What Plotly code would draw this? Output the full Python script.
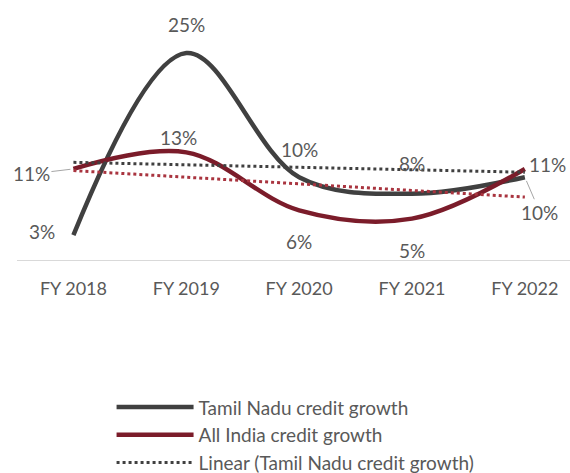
import numpy as np
import plotly.graph_objects as go

# data
years = ["FY 2018", "FY 2019", "FY 2020", "FY 2021", "FY 2022"]
tn_growth = [3, 25, 10, 8, 10]      # Tamil Nadu credit growth (%)
india_growth = [11, 13, 6, 5, 11]   # All India credit growth (%)

TN_COLOR = "#404040"
IN_COLOR = "#7b1c2a"
IN_TREND = "#a9343f"
TEXT = "#595959"
FONT = "Lato"

# linear trend lines (same as Excel's "Linear" trendline)
xs = np.arange(len(years))
tn_fit = np.polyval(np.polyfit(xs, tn_growth, 1), xs)
in_fit = np.polyval(np.polyfit(xs, india_growth, 1), xs)

fig = go.Figure()
fig.add_trace(go.Scatter(x=years, y=tn_growth, name="Tamil Nadu credit growth",
                         mode="lines", line=dict(color=TN_COLOR, width=4.5, shape="spline", smoothing=1)))
fig.add_trace(go.Scatter(x=years, y=india_growth, name="All India credit growth",
                         mode="lines", line=dict(color=IN_COLOR, width=4.5, shape="spline", smoothing=1)))
fig.add_trace(go.Scatter(x=years, y=tn_fit, name="Linear (Tamil Nadu credit growth)",
                         mode="lines", line=dict(color=TN_COLOR, width=3, dash="3px,3px")))
# its legend entry falls below the visible area in the reference
fig.add_trace(go.Scatter(x=years, y=in_fit, name="Linear (All India credit growth)",
                         mode="lines", line=dict(color=IN_TREND, width=3, dash="3px,3px"),
                         showlegend=False))

# data labels: (xshift, yshift) per point, in pixels
tn_offsets = [(-31, 4), (0, 29), (0, 28), (0, 30), None]
in_offsets = [None, (-8, 15), (0, -31), (0, -32), (23, 4)]

for i, yr in enumerate(years):
    for vals, offs in ((tn_growth, tn_offsets), (india_growth, in_offsets)):
        if offs[i] is None:
            continue
        fig.add_annotation(x=yr, y=vals[i], text=f"{vals[i]}%", showarrow=False,
                           xshift=offs[i][0], yshift=offs[i][1],
                           font=dict(family=FONT, size=19, color=TEXT))

# labels with leader lines
fig.add_annotation(x=years[0], y=india_growth[0], text=f"{india_growth[0]}%",
                   showarrow=True, arrowhead=0, arrowwidth=1, arrowcolor="#a6a6a6",
                   ax=-42, ay=5, standoff=3, font=dict(family=FONT, size=19, color=TEXT))
fig.add_annotation(x=years[4], y=tn_growth[4], text=f"{tn_growth[4]}%",
                   showarrow=True, arrowhead=0, arrowwidth=1, arrowcolor="#a6a6a6",
                   ax=15, ay=35, standoff=4, font=dict(family=FONT, size=19, color=TEXT))

fig.update_layout(
    width=570, height=473,
    margin=dict(l=17, r=0, t=10, b=213, autoexpand=False),
    paper_bgcolor="white", plot_bgcolor="white",
    font=dict(family=FONT, size=17, color=TEXT),
    showlegend=True,
    legend=dict(x=0.171, y=-0.513, xanchor="left", yanchor="top",
                font=dict(family=FONT, size=19, color=TEXT),
                itemwidth=77, bgcolor="rgba(0,0,0,0)"),
    xaxis=dict(type="category", range=[-0.5, 4.4], showgrid=False, zeroline=False,
               showline=True, linecolor="#d9d9d9", linewidth=1, ticks="",
               ticklabelstandoff=12,
               tickfont=dict(family=FONT, size=18, color=TEXT)),
    yaxis=dict(range=[0, 30.2], visible=False, showgrid=False, zeroline=False),
)

fig.write_html("out.html", config={"displayModeBar": False},
               post_script="document.body.style.margin='0';")
